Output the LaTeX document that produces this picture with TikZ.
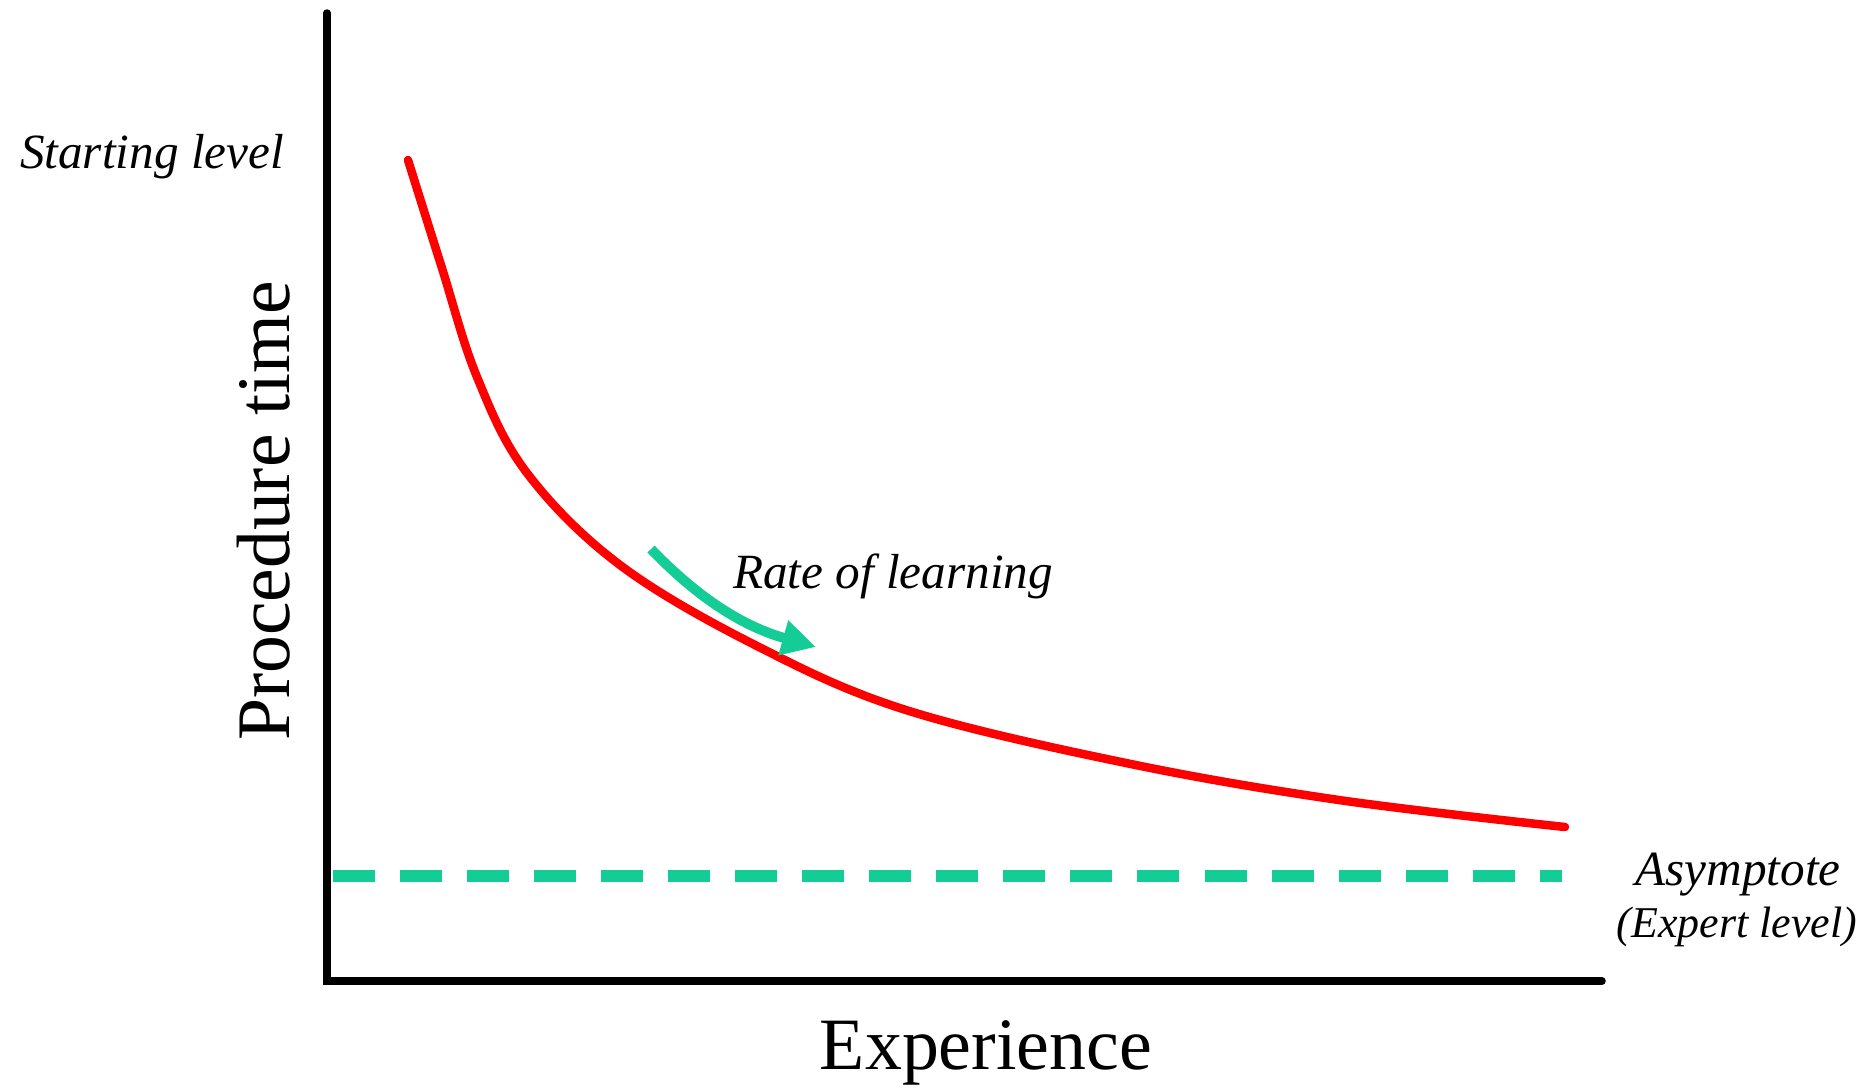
\documentclass[tikz,border=0pt]{standalone}
\usepackage{fontspec}
\setmainfont{Liberation Serif}
\usepackage{tikz}
\usetikzlibrary{arrows.meta}
\definecolor{asymgreen}{RGB}{20,204,150}

\begin{document}
\begin{tikzpicture}[x=0.01cm,y=-0.01cm]
\useasboundingbox (0,0) rectangle (1863,1090);
\draw[black, line width=0.075 cm, line cap=round] (327,13) -- (327,981) -- (1602,981);

\draw[asymgreen, line width=0.12 cm, dash pattern=on 0.42cm off 0.25cm] (333,876) -- (1562,876);

\draw[red, line width=0.085 cm, line cap=round, line join=round] plot[smooth, tension=0.6] coordinates {
(408,160) (441,265) (477,377) (527,473) (620,565) (757,646) (906,710)
(1126,763) (1339,800) (1565,827)};

\draw[asymgreen, line width=0.1 cm, -{Triangle[length=0.34cm,width=0.34cm]}] (651,549) .. controls (700,600) and (745,627) .. (816,647);

\node (start) at (152,157) {\fontsize{14}{16}\selectfont\itshape Starting level};
\node (rate) at (893,576) {\fontsize{14}{16}\selectfont\itshape Rate of learning};
\node (asym) at (1738,875) {\fontsize{14}{16}\selectfont\itshape Asymptote};
\node (expert) at (1737,927) {\fontsize{12.5}{15}\selectfont\itshape (Expert level)};
\node[rotate=90] (ylab) at (264,511) {\fontsize{21.5}{24}\selectfont Procedure time};
\node (xlab) at (986,1053) {\fontsize{21}{24}\selectfont Experience};
\end{tikzpicture}
\end{document}
